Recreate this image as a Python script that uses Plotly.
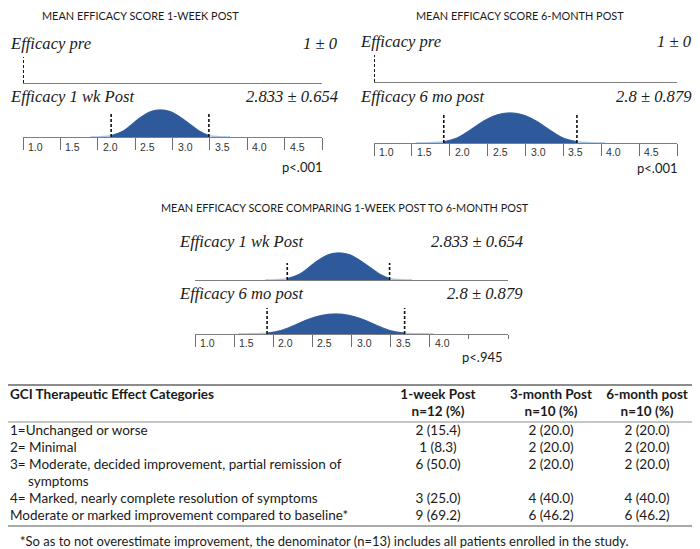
import plotly.graph_objects as go

# the page puts the figure 8px in from the top-left corner, so the figure is
# drawn 8px smaller and every reference pixel position is shifted by OFF
W, H = 700, 549
OFF = 8
FW, FH = W - OFF, H - OFF

# ---------------- data ----------------
tick_values = [1.0, 1.5, 2.0, 2.5, 3.0, 3.5, 4.0, 4.5, 5.0]
tick_labels = ["1.0", "1.5", "2.0", "2.5", "3.0", "3.5", "4.0", "4.5", ""]

groups = ["Efficacy pre", "Efficacy 1 wk Post", "Efficacy 6 mo post"]
means = [1, 2.833, 2.8]
sds = [0, 0.654, 0.879]

# bell shapes (relative height, peak = 1)
wk_x = [1.90, 2.05, 2.18, 2.34, 2.47, 2.56, 2.70, 2.83, 2.97, 3.10, 3.23, 3.37, 3.49, 3.62, 3.77]
wk_y = [0.0, 0.01, 0.05, 0.22, 0.50, 0.70, 0.93, 1.0, 0.94, 0.74, 0.48, 0.20, 0.05, 0.01, 0.0]
mo_x = [1.55, 1.75, 1.92, 2.09, 2.27, 2.44, 2.62, 2.80, 2.97, 3.15, 3.32, 3.50, 3.68, 3.85, 4.05]
mo_y = [0.0, 0.01, 0.04, 0.16, 0.43, 0.72, 0.93, 1.0, 0.93, 0.72, 0.43, 0.16, 0.04, 0.01, 0.0]

panel_titles = ["MEAN EFFICACY SCORE 1-WEEK POST",
                "MEAN EFFICACY SCORE 6-MONTH POST",
                "MEAN EFFICACY SCORE COMPARING 1-WEEK POST TO 6-MONTH POST"]
p_values = ["p<.001", "p<.001", "p<.945"]

table_columns = ["GCI Therapeutic Effect Categories", "1-week Post", "3-month Post", "6-month post"]
table_n = [12, 10, 10]
categories = [["1=Unchanged or worse"],
              ["2= Minimal"],
              ["3= Moderate, decided improvement, partial remission of", "symptoms"],
              ["4= Marked, nearly complete resolution of symptoms"],
              ["Moderate or marked improvement compared to baseline*"]]
week1_n = [2, 1, 6, 3, 9]
week1_pct = [15.4, 8.3, 50.0, 25.0, 69.2]
month3_n = [2, 2, 2, 4, 6]
month3_pct = [20.0, 20.0, 20.0, 40.0, 46.2]
month6_n = [2, 2, 2, 4, 6]
month6_pct = [20.0, 20.0, 20.0, 40.0, 46.2]
footnote = ("*So as to not overestimate improvement, the denominator (n=13) "
            "includes all patients enrolled in the study.")

curves = {1: (wk_x, wk_y), 2: (mo_x, mo_y)}

# ---------------- layout of the strips (reference pixels) ----------------
# full: ticks up to this value are long, the rest short; last: last labelled tick
strips = [
    dict(g=0, xl=23, xr=322, base=83, peak=None, dash=26, ticks=False, ty=43, tl=8, tr=340),
    dict(g=1, xl=23, xr=322, base=137, peak=27, dash=25, ticks=True, full=5.0, last=4.5, ly=147,
         ty=97, tl=8, tr=340),
    dict(g=0, xl=374, xr=677, base=82, peak=None, dash=27, ticks=False, ty=41, tl=358, tr=694),
    dict(g=2, xl=374, xr=677, base=143, peak=30, dash=28, ticks=True, full=5.0, last=4.5, ly=152,
         ty=97, tl=358, tr=694),
    dict(g=1, xl=195, xr=508, base=280, peak=27, dash=17, ticks=False, ty=241, tl=177, tr=525),
    dict(g=2, xl=195, xr=508, base=334, peak=20, dash=26, ticks=True, full=4.0, last=4.0, ly=343,
         ty=293, tl=177, tr=525),
]
title_pos = [(140, 16), (520, 16), (345, 207)]
p_pos = [(325, 167), (680, 168), (505, 357)]

DARK = "#2e5a9c"
LIGHT = "#a9c4e6"
SANS = "Lato"
serif_it = dict(family="Liberation Serif", size=16.6, style="italic", color="#1a1a1a")


def px(x):
    return (x - OFF) / FW


def py(y):
    return 1 - (y - OFF) / FH


fig = go.Figure()
layout = dict(width=FW, height=FH, margin=dict(l=0, r=0, t=0, b=0),
              paper_bgcolor="white", plot_bgcolor="rgba(0,0,0,0)", showlegend=False)
annotations = []

for i, s in enumerate(strips, start=1):
    xa, ya = f"x{i}", f"y{i}"
    unit = s["peak"] if s["peak"] else s["dash"]
    top = max(unit, s["dash"]) + 3
    xax = dict(domain=[px(s["xl"]), px(s["xr"])], range=[1, 5], anchor=ya,
               showgrid=False, zeroline=False, showline=True,
               linecolor="#7f7f7f", linewidth=1, ticks="", showticklabels=False, fixedrange=True)
    if s["ticks"]:
        xax.update(ticks="outside", ticklen=12, tickcolor="#6f6f6f", tickwidth=1,
                   tickvals=[v for v in tick_values if v <= s["full"]])
        short = [v for v in tick_values if v > s["full"]]
        if short:
            xax["minor"] = dict(tickvals=short, ticks="outside", ticklen=4,
                                tickcolor="#6f6f6f", tickwidth=1, showgrid=False)
    layout[f"xaxis{i}"] = xax
    layout[f"yaxis{i}"] = dict(domain=[py(s["base"]), py(s["base"] - top)],
                               range=[0, top / unit], anchor=xa, visible=False, fixedrange=True)

    g = s["g"]
    if s["peak"]:
        cx, cy = curves[g]
        lo, hi = means[g] - sds[g], means[g] + sds[g]
        fx = [x for x in cx if lo - 0.02 <= x <= hi + 0.02]
        fy = [y for x, y in zip(cx, cy) if lo - 0.02 <= x <= hi + 0.02]
        fig.add_trace(go.Scatter(x=cx, y=cy, mode="lines", xaxis=xa, yaxis=ya,
                                 line=dict(color=LIGHT, width=1.5, shape="spline"),
                                 hoverinfo="skip"))
        fig.add_trace(go.Scatter(x=fx, y=fy, mode="lines", xaxis=xa, yaxis=ya, fill="tozeroy",
                                 fillcolor=DARK, line=dict(color=DARK, width=1, shape="spline"),
                                 hoverinfo="skip"))
    # mean +/- SD markers
    for xv in (means[g] - sds[g], means[g] + sds[g]):
        fig.add_trace(go.Scatter(x=[xv, xv], y=[0, s["dash"] / unit], mode="lines",
                                 xaxis=xa, yaxis=ya, hoverinfo="skip",
                                 line=dict(color="#111111", width=1.6, dash="3px,2px")))

    annotations.append(dict(text=groups[g], x=px(s["tl"]), y=py(s["ty"]), xref="paper", yref="paper",
                            xanchor="left", yanchor="middle", showarrow=False, font=serif_it))
    annotations.append(dict(text=f"{means[g]:g} \u00b1 {sds[g]:g}", x=px(s["tr"]), y=py(s["ty"]),
                            xref="paper", yref="paper", xanchor="right", yanchor="middle",
                            showarrow=False, font=serif_it))
    if s["ticks"]:
        for v, lab in zip(tick_values, tick_labels):
            if lab and v <= s["last"]:
                annotations.append(dict(text=lab, x=v, xref=xa, xshift=3, y=py(s["ly"]), yref="paper",
                                        xanchor="left", yanchor="middle", showarrow=False,
                                        font=dict(family="Liberation Sans", size=10.5, color="#333333")))

for t, (x, y) in zip(panel_titles, title_pos):
    annotations.append(dict(text=t, x=px(x), y=py(y), xref="paper", yref="paper", showarrow=False,
                            xanchor="center", yanchor="middle",
                            font=dict(family=SANS, size=10.9, color="#1a1a1a")))
for t, (x, y) in zip(p_values, p_pos):
    annotations.append(dict(text=t, x=px(x), y=py(y), xref="paper", yref="paper", showarrow=False,
                            xanchor="right", yanchor="middle",
                            font=dict(family=SANS, size=13, color="#1a1a1a")))

# ---------------- table ----------------
TI = len(strips) + 1
layout[f"xaxis{TI}"] = dict(domain=[0, 1], range=[OFF, W], anchor=f"y{TI}", visible=False, fixedrange=True)
layout[f"yaxis{TI}"] = dict(domain=[0, py(375)], range=[H, 375], anchor=f"x{TI}", visible=False,
                            fixedrange=True)
col_x = [438, 551, 647]
head_y = [396, 413]
row_y0, step = 432, 17

lx, ly, lt = [10], [head_y[0]], [f"<b>{table_columns[0]}</b>"]
cx, cy, ct = [], [], []
for c, name in enumerate(table_columns[1:]):
    cx += [col_x[c], col_x[c]]
    cy += head_y
    ct += [f"<b>{name}</b>", f"<b>n={table_n[c]} (%)</b>"]

line = 0
for r, lines in enumerate(categories):
    y_first = row_y0 + step * line
    for k, text in enumerate(lines):
        lx.append(10 if k == 0 else 28)
        ly.append(row_y0 + step * line)
        lt.append(text)
        line += 1
    for c, (ns, ps) in enumerate([(week1_n, week1_pct), (month3_n, month3_pct), (month6_n, month6_pct)]):
        cx.append(col_x[c])
        cy.append(y_first)
        ct.append(f"{ns[r]} ({ps[r]:.1f})")

tfont = dict(family=SANS, size=13.5, color="#1a1a1a")
fig.add_trace(go.Scatter(x=lx, y=ly, text=lt, mode="text", textposition="middle right",
                         textfont=tfont, xaxis=f"x{TI}", yaxis=f"y{TI}", cliponaxis=False,
                         hoverinfo="skip"))
fig.add_trace(go.Scatter(x=cx, y=cy, text=ct, mode="text", textposition="middle center",
                         textfont=tfont, xaxis=f"x{TI}", yaxis=f"y{TI}", cliponaxis=False,
                         hoverinfo="skip"))

annotations.append(dict(text=footnote, x=px(18), y=py(541), xref="paper", yref="paper",
                        xanchor="left", yanchor="middle", showarrow=False,
                        font=dict(family=SANS, size=13, color="#1a1a1a")))

shapes = []
for y, w in [(385, 2.2), (422, 1), (526, 1.5)]:
    shapes.append(dict(type="line", xref="paper", yref="paper", x0=0, x1=1, y0=py(y), y1=py(y),
                       line=dict(color="#8c8c8c", width=w)))

layout["annotations"] = annotations
layout["shapes"] = shapes
fig.update_layout(**layout)

fig.write_html("out.html")
